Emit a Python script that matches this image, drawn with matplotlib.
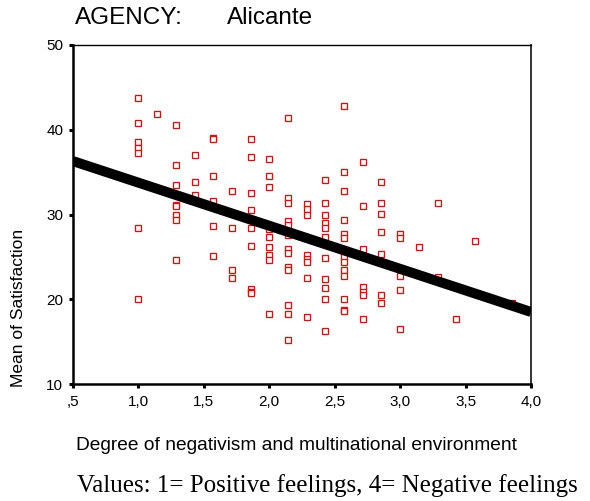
import numpy as np
import matplotlib
matplotlib.use("Agg")
import matplotlib.pyplot as plt

# Scatter data: x is the degree of negativism (steps of 1/7), y the mean satisfaction
x_levels = [1.0, 1.143, 1.286, 1.429, 1.571, 1.714, 1.857, 2.0, 2.143, 2.286,
            2.429, 2.571, 2.714, 2.857, 3.0, 3.143, 3.286, 3.429, 3.571, 3.857]
y_by_level = [
    [43.8, 40.8, 38.6, 37.8, 37.3, 28.4, 20.0],
    [41.8],
    [40.6, 35.8, 33.5, 31.1, 31.0, 29.9, 29.4, 24.6],
    [37.0, 33.8, 32.3],
    [39.0, 38.9, 34.5, 31.6, 28.6, 25.1],
    [32.8, 28.4, 23.4, 22.5],
    [38.9, 36.8, 32.5, 30.5, 28.4, 26.3, 21.2, 20.9, 20.7],
    [36.6, 34.5, 33.2, 28.3, 27.4, 26.2, 25.2, 24.6, 18.3],
    [41.4, 32.0, 31.4, 29.2, 28.8, 27.6, 25.9, 25.5, 23.8, 23.4, 19.3, 18.3, 15.2],
    [31.2, 30.6, 30.0, 25.2, 24.8, 24.4, 22.5, 17.9],
    [34.1, 31.4, 30.0, 29.0, 28.4, 27.3, 24.9, 22.4, 21.3, 20.0, 16.3],
    [42.8, 35.0, 32.8, 29.4, 27.7, 27.2, 25.0, 24.4, 23.4, 22.8, 20.0, 18.7, 18.6],
    [36.2, 31.0, 25.9, 21.5, 20.9, 20.5, 17.7],
    [33.8, 31.4, 30.1, 27.9, 25.3, 20.5, 19.6],
    [27.7, 27.2, 22.8, 21.1, 16.5],
    [26.2],
    [31.4, 22.6],
    [17.7],
    [26.9],
    [19.5],
]

# Fitted line, read at both ends of the axis
fit_x = [0.5, 4.0]
fit_y = [36.3, 18.5]

x_ticks = [0.5, 1.0, 1.5, 2.0, 2.5, 3.0, 3.5, 4.0]
x_tick_labels = [",5", "1,0", "1,5", "2,0", "2,5", "3,0", "3,5", "4,0"]
y_ticks = [10, 20, 30, 40, 50]

xs = np.concatenate([[lv] * len(ys) for lv, ys in zip(x_levels, y_by_level)])
ys = np.concatenate(y_by_level)

W, H = 590, 501
fig = plt.figure(figsize=(W / 100, H / 100), dpi=100)
fig.patch.set_facecolor("white")
ax = fig.add_axes([73 / W, 1 - 384 / H, 458 / W, 339 / H])

ax.plot(xs, ys, linestyle="none", marker="s", markersize=4.6,
        markerfacecolor="white", markeredgecolor="#ff0000", markeredgewidth=0.9,
        zorder=2)
ax.plot(fit_x, fit_y, color="black", linewidth=7.2, solid_capstyle="butt",
        zorder=3)

ax.set_xlim(0.5, 4.0)
ax.set_ylim(10, 50)
ax.set_xticks(x_ticks)
ax.set_xticklabels(x_tick_labels)
ax.set_yticks(y_ticks)
ax.tick_params(direction="out", length=3, width=2.2, labelsize=11, color="black")
ax.tick_params(axis="x", pad=5)
ax.tick_params(axis="y", pad=4)
for lab in ax.get_xticklabels() + ax.get_yticklabels():
    lab.set_family("Liberation Sans")

for side in ("left", "bottom"):
    ax.spines[side].set_linewidth(1.8)
ax.spines["top"].set_linewidth(1.0)
ax.spines["right"].set_linewidth(1.4)
ax.spines["right"].set_color("#333333")

fig.text(75 / W, 1 - 18 / H, "AGENCY:", family="Liberation Sans",
         fontsize=17.5, ha="left", va="center")
fig.text(227 / W, 1 - 18 / H, "Alicante", family="Liberation Sans",
         fontsize=17.5, ha="left", va="center")
fig.text(19 / W, 1 - 308 / H, "Mean of Satisfaction", family="Liberation Sans",
         fontsize=12.5, rotation=90, ha="center", va="center")
fig.text(296 / W, 1 - 445 / H, "Degree of negativism and multinational environment",
         family="Liberation Sans", fontsize=13.8, ha="center", va="center")
fig.text(327 / W, 1 - 486 / H, "Values: 1= Positive feelings, 4= Negative feelings",
         family="Liberation Serif", fontsize=18, ha="center", va="center")

fig.savefig("out.png", dpi=100, facecolor="white")
